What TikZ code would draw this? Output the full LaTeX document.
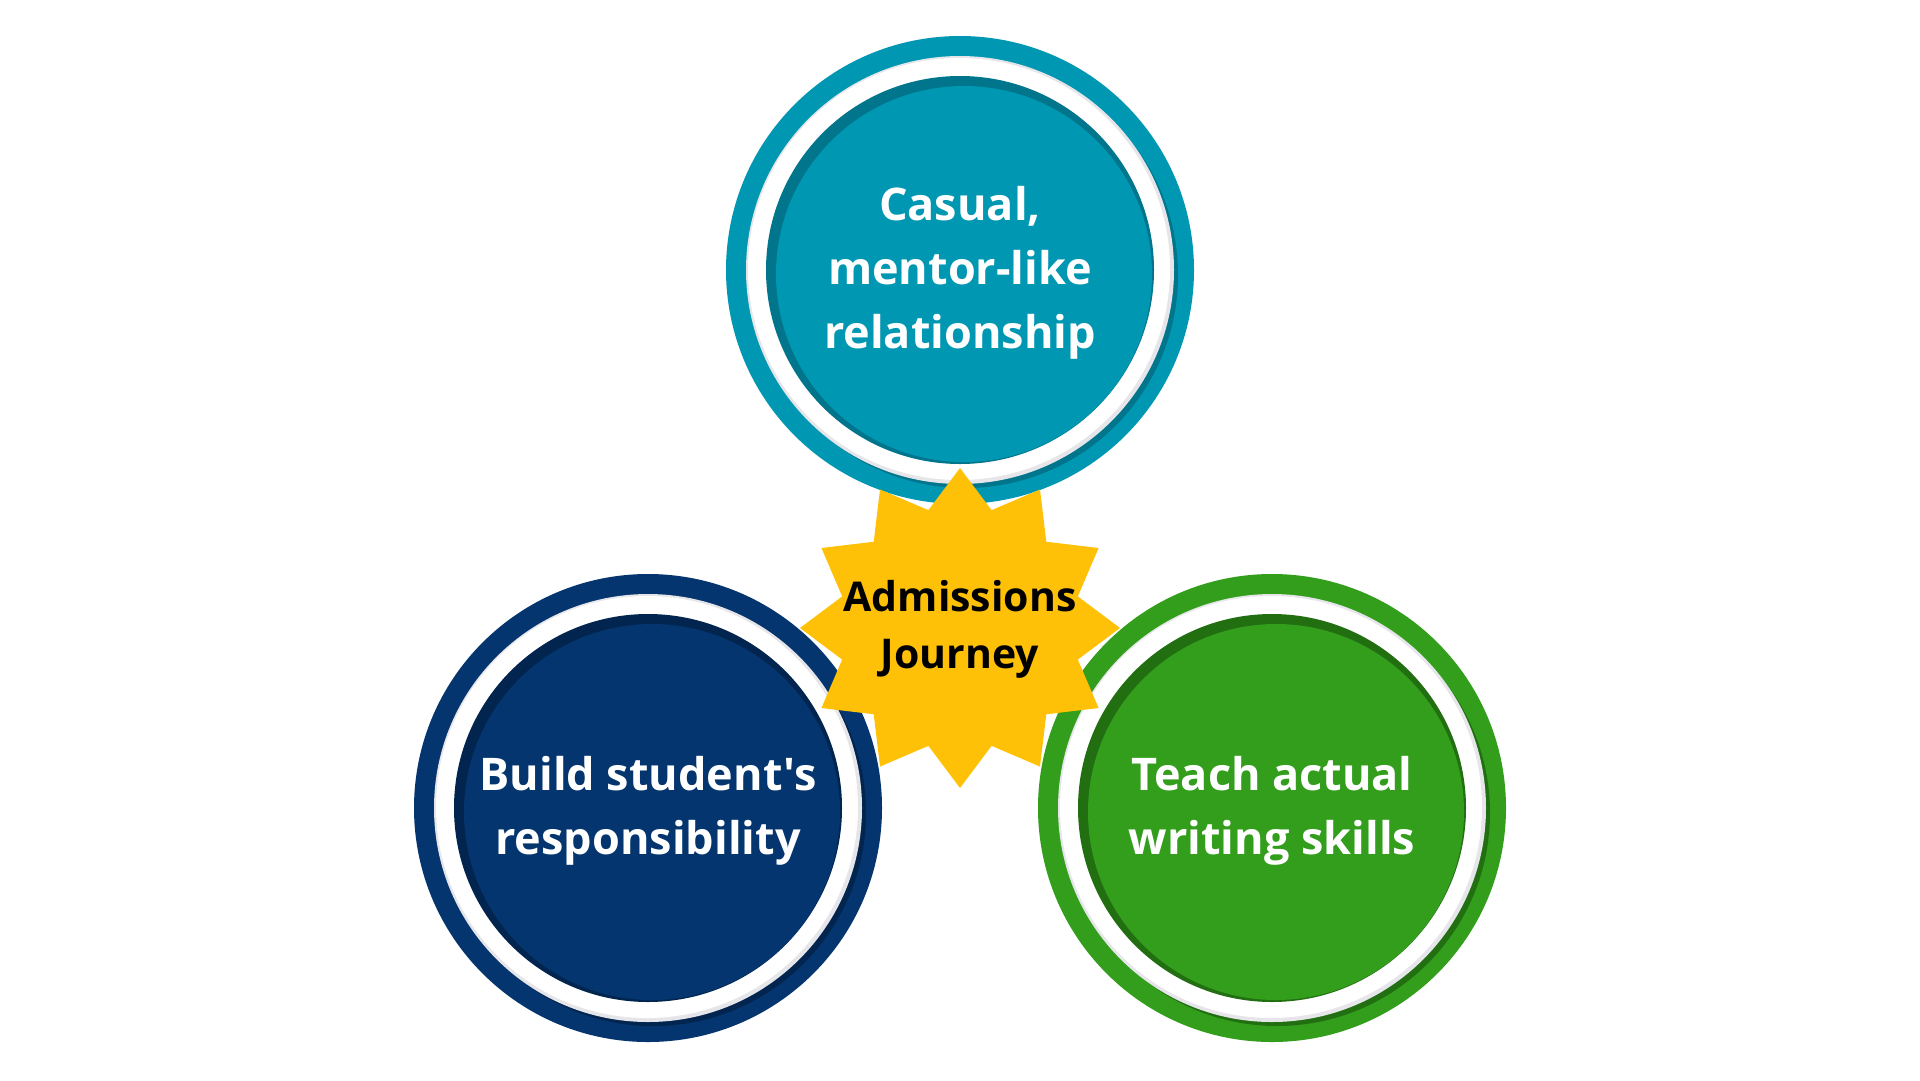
\documentclass[tikz,border=0pt]{standalone}
\usepackage{fontspec}
\setmainfont{Open Sans}[Ligatures=TeXOff]
\definecolor{tealA}{HTML}{0097B2}
\definecolor{tealD}{HTML}{00758B}
\definecolor{navyA}{HTML}{04356E}
\definecolor{navyD}{HTML}{02254F}
\definecolor{greenA}{HTML}{329E1C}
\definecolor{greenD}{HTML}{226F12}
\definecolor{starY}{HTML}{FFC107}
\definecolor{ringG}{HTML}{E6E6EA}
\newcommand\ringbadge[3]{%
  % #1 centre coordinate name, #2 main colour, #3 dark colour
  \fill[#2] (#1) circle (234);
  \fill[#3] ([shift={(5,5)}]#1) circle (213);
  \fill[ringG] (#1) circle (214);
  \fill[white] ([shift={(-1,-1)}]#1) circle (211);
  \fill[#3] (#1) circle (194);
  \fill[#2] ([shift={(4,4)}]#1) circle (188);
}
\tikzset{
  badgetext/.style={text=white, font=\bfseries\fontsize{45}{64}\selectfont, align=center, inner sep=0pt},
  startext/.style={text=black, font=\bfseries\fontsize{41}{57}\selectfont, align=center, inner sep=0pt},
}
\begin{document}
\begin{tikzpicture}[x=1pt,y=-1pt]
\useasboundingbox (0,0) rectangle (1920,1080);
\fill[white] (0,0) rectangle (1920,1080);
\coordinate (ctop) at (960,270);
\coordinate (cleft) at (648,808);
\coordinate (cright) at (1272,808);
\coordinate (cstar) at (960,628);
\ringbadge{ctop}{tealA}{tealD}
\ringbadge{cleft}{navyA}{navyD}
\ringbadge{cright}{greenA}{greenD}
\fill[starY] ([shift={(90:160)}]cstar)
  \foreach \i in {1,...,23} { -- ([shift={({90+15*\i}:{ifthenelse(mod(\i,2)==0,160,122)})}]cstar) } -- cycle;
\node[badgetext] (ttop) at ([yshift=-3]ctop) {Casual,\\mentor-like\\relationship};
\node[badgetext] (tleft) at ([yshift=-3]cleft) {Build student's\\responsibility};
\node[badgetext] (tright) at ([yshift=-3]cright) {Teach actual\\writing skills};
\node[startext] (tstar) at ([yshift=-1]cstar) {Admissions\\Journey};
\end{tikzpicture}
\end{document}
